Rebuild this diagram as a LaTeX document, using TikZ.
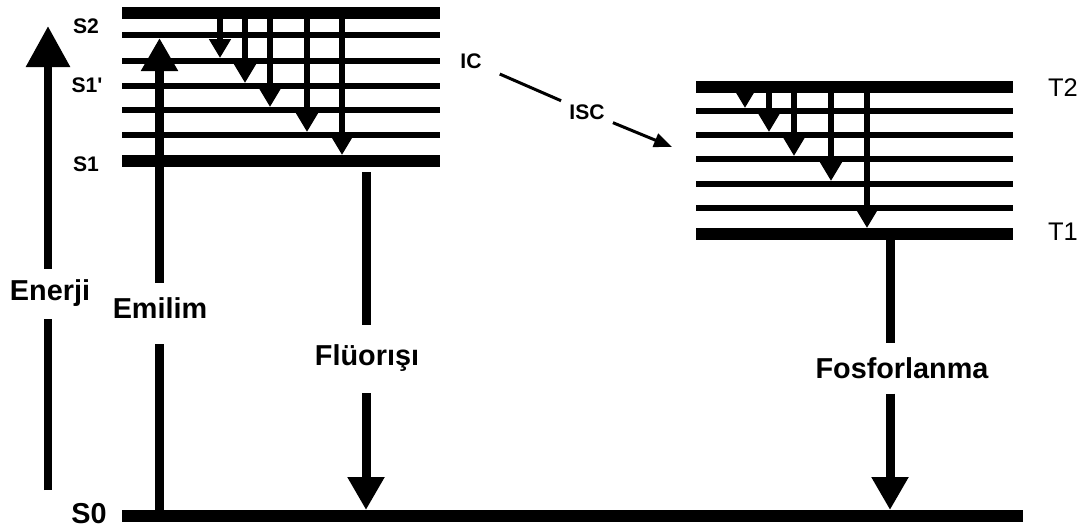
\documentclass[tikz,border=0pt]{standalone}
\usepackage{fontspec}
\setmainfont{Liberation Sans}[Ligatures=TeXOff]
\usetikzlibrary{arrows.meta}

\begin{document}
\begin{tikzpicture}[
    x=0.02cm, y=-0.02cm,
    lvl/.style={line width=0.24cm},
    sublvl/.style={line width=0.12cm},
    vib/.style={line width=0.12cm, -{Triangle[length=0.38cm, width=0.42cm]}},
    shaft/.style={line width=0.18cm},
    bigarr/.style={shaft, -{Triangle[length=0.66cm, width=0.7cm]}},
    xline/.style={line width=0.06cm},
    lbl/.style={inner sep=0pt, font=\fontsize{16.4}{18}\selectfont\bfseries},
    slbl/.style={inner sep=0pt, font=\fontsize{12}{14}\selectfont\bfseries},
    tlbl/.style={inner sep=0pt, font=\fontsize{14.5}{16}\selectfont}
]
    \useasboundingbox (0,0) rectangle (1086,529);

    % S levels
    \draw[lvl] (122,13) -- (440,13);
    \foreach \y in {35,61,86,110,135}
        \draw[sublvl] (122,\y) -- (440,\y);
    \draw[lvl] (122,161) -- (440,161);

    % T levels
    \draw[lvl] (696,87) -- (1013,87);
    \foreach \y in {111,135,159,184,208}
        \draw[sublvl] (696,\y) -- (1013,\y);
    \draw[lvl] (696,234) -- (1013,234);

    % ground state
    \draw[lvl] (122,516) -- (1023,516);

    % vibrational relaxation
    \foreach \x/\y in {220/58, 245/83, 270/107, 307/132, 342/155}
        \draw[vib] (\x,13) -- (\x,\y);
    \foreach \x/\y in {745/108, 769/132, 794/156, 831/181, 867/228}
        \draw[vib] (\x,87) -- (\x,\y);

    % level labels
    \node[slbl] (s2)  at (86,26)  {S2};
    \node[slbl] (s1p) at (87,85)  {S1'};
    \node[slbl] (s1)  at (86,164) {S1};
    \node[lbl, anchor=base] (s0) at (89,523) {S0};
    \node[tlbl] (t2) at (1063,87.5) {T2};
    \node[tlbl] (t1) at (1063,232)  {T1};

    % Enerji
    \coordinate (eb) at (48,490);
    \coordinate (et) at (48,26);
    \node[lbl, anchor=base] (enerji) at (50,300) {Enerji};
    \draw[shaft, shorten >=0.26cm] (eb) -- (enerji.south -| eb);
    \draw[shaft, -{Triangle[length=0.82cm, width=0.84cm]}, shorten <=0.2cm]
        (enerji.north -| eb) -- (et);

    % Emilim
    \coordinate (ab) at (159.5,516);
    \coordinate (at2) at (159.5,38);
    \node[lbl, anchor=base] (emilim) at (160,318) {Emilim};
    \draw[shaft, shorten >=0.52cm] (ab) -- (emilim.south -| ab);
    \draw[bigarr, shorten <=0.28cm] (emilim.north -| ab) -- (at2);

    % Flüorışı
    \coordinate (fb) at (366,172);
    \coordinate (fe) at (366,510);
    \node[lbl, anchor=base] (fluo) at (367,365) {Flüorışı};
    \draw[shaft, shorten >=0.38cm] (fb) -- (fluo.north -| fb);
    \draw[bigarr, shorten <=0.44cm] (fluo.south -| fb) -- (fe);

    % Fosforlanma
    \coordinate (pb) at (890,240);
    \coordinate (pe) at (890,510);
    \node[lbl, anchor=base] (fosfor) at (902,378) {Fosforlanma};
    \draw[shaft, shorten >=0.28cm] (pb) -- (fosfor.north -| pb);
    \draw[bigarr, shorten <=0.3cm] (fosfor.south -| pb) -- (pe);

    % IC / ISC
    \node[slbl] (ic) at (471,61.5) {IC};
    \node[slbl, inner xsep=0.16cm, inner ysep=0.1cm] (isc) at (587,112) {ISC};
    \coordinate (iscend) at (672,147);
    \draw[xline, shorten <=0.39cm] (ic) -- (isc);
    \draw[xline, -{Triangle[length=0.36cm, width=0.28cm]}] (isc) -- (iscend);
\end{tikzpicture}
\end{document}
